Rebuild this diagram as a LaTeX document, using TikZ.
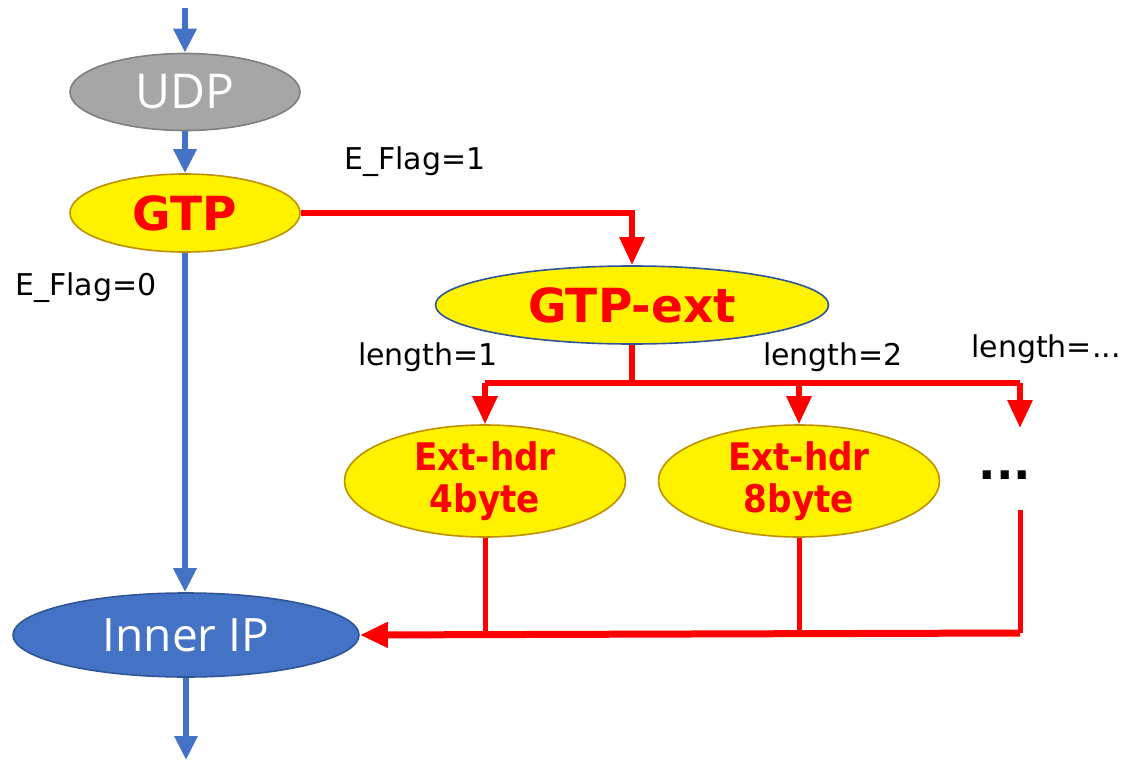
\documentclass[tikz,border=0pt]{standalone}
\usepackage{fontspec}
\setmainfont{DejaVu Sans}
\newfontfamily\thinfont{Open Sans}
\newfontfamily\boldcond{DejaVu Sans Condensed}
\usetikzlibrary{shapes.geometric,arrows.meta}
\definecolor{flowblue}{HTML}{4472C4}
\definecolor{edgeblue}{HTML}{2F5597}
\definecolor{udpgray}{HTML}{A6A6A6}
\definecolor{udpedge}{HTML}{7F7F7F}
\definecolor{goldedge}{HTML}{BF9000}
\definecolor{hdrred}{HTML}{FF0000}
\tikzset{
  proto/.style={ellipse, inner sep=0pt, line width=1.6pt},
  yellownode/.style={proto, fill=yellow, draw=goldedge, text=hdrred, font=\bfseries\fontsize{47}{49}\selectfont},
  hdrnode/.style={proto, fill=yellow, draw=goldedge, text=hdrred, align=center,
    font=\boldcond\bfseries\fontsize{38}{42}\selectfont, minimum width=281pt, minimum height=112pt},
  bluepath/.style={draw=flowblue, line width=6pt, -{Triangle[width=22pt,length=24pt]}},
  redpath/.style={draw=hdrred, line width=6pt, -{Triangle[width=24pt,length=28pt]}},
  redline/.style={draw=hdrred, line width=5pt},
  cond/.style={font=\fontsize{30}{32}\selectfont, text=black, inner sep=0pt}
}
\begin{document}
\begin{tikzpicture}[x=1pt,y=-1pt]
\useasboundingbox (0,0) rectangle (1128,760);
\fill[white] (0,0) rectangle (1128,760);

% protocol nodes
\node[proto, fill=udpgray, draw=udpedge, text=white, font=\thinfont\fontsize{48}{50}\selectfont,
      minimum width=230pt, minimum height=77pt] (udp) at (185,92) {UDP};
\node[yellownode, minimum width=230pt, minimum height=78pt] (gtp) at (185,213) {GTP};
\node[yellownode, draw=edgeblue, minimum width=393pt, minimum height=78pt] (ext) at (632,305) {GTP-ext};
\node[hdrnode] (h1) at (485,481) {Ext-hdr\\4byte};
\node[hdrnode] (h2) at (799,481) {Ext-hdr\\8byte};
\node[font=\bfseries\fontsize{46}{48}\selectfont, inner sep=0pt] (more) at (1005,475) {...};
\node[proto, fill=flowblue, draw=edgeblue, text=white, font=\thinfont\fontsize{46}{48}\selectfont,
      minimum width=346pt, minimum height=84pt] (ip) at (186,635) {Inner IP};

% condition labels
\node[cond] (ef1) at (415,162) {E\_Flag=1};
\node[cond] (ef0) at (86,288) {E\_Flag=0};
\node[cond] (l1) at (428,357) {length=1};
\node[cond] (l2) at (833,357) {length=2};
\node[cond] (ln) at (1046,349) {length=...};

% free ends and junctions
\coordinate (in) at (185,8);
\coordinate (out) at (186,760);
\coordinate (split) at (632,383);
\coordinate (moretip) at (1020,428);
\coordinate (morefoot) at (1020,510);
\coordinate (join) at (1020,633);

% blue main flow
\draw[bluepath] (in) -- (udp.north);
\draw[bluepath] (udp.south) -- (gtp.north);
\draw[bluepath] (gtp.south) -- (gtp.south |- ip.north);
\draw[bluepath] (ip.south) -- (out);

% extension header branch
\draw[redpath] (gtp.east) -| (ext.north);
\draw[redline, line width=6pt] (ext.south) -- (split);
\draw[redline, line width=6pt] (h1.north |- split) -- (moretip |- split);
\draw[redpath] (h1.north |- split) -- (h1.north);
\draw[redpath] (h2.north |- split) -- (h2.north);
\draw[redpath] (moretip |- split) -- (moretip);

% return to inner IP
\draw[redline] (h1.south) -- (h1.south |- join);
\draw[redline] (h2.south) -- (h2.south |- join);
\draw[redline] (morefoot) -- (join);
\draw[redpath, line width=7pt] (join) -- (ip.east);
\end{tikzpicture}
\end{document}
